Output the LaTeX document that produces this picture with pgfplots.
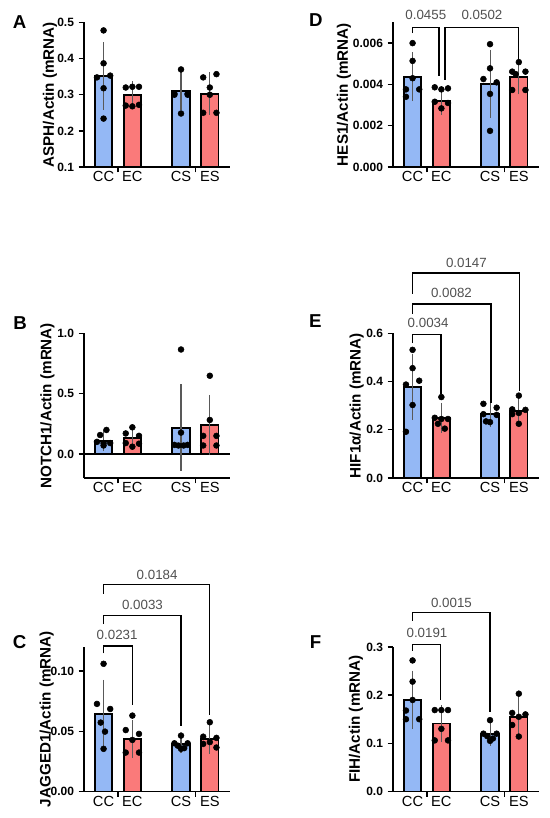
\documentclass[border=0pt]{standalone}
\usepackage{pgfplots}
\pgfplotsset{compat=1.18}
\usepackage{fontspec}
\setmainfont{Liberation Sans}
\definecolor{cblue}{HTML}{94B8F5}
\definecolor{cred}{HTML}{FA7A7A}
\definecolor{sig}{HTML}{505050}
\pgfplotsset{
  panel/.style={
    scale only axis, width=109.7pt, height=108.4pt,
    axis lines=left, axis line style={line width=1.4pt, -},
    xmin=-0.68, xmax=4.4,
    xtick={0.5,3.19}, xticklabels={},
    extra x ticks={0,1,2.69,3.69}, extra x tick labels={CC,EC,CS,ES},
    extra x tick style={major tick length=0pt},
    tick align=outside, major tick length=4pt,
    every tick/.style={line width=1pt, black},
    scaled y ticks=false,
    y tick label style={font=\fontsize{9}{10}\selectfont\bfseries},
    x tick label style={font=\fontsize{11}{13}\selectfont},
    ylabel style={font=\fontsize{11.4}{13}\selectfont\bfseries, anchor=center},
  },
  ylab/.style={ylabel style={at={(axis description cs:#1,0.5)}}},
  bblue/.style={ybar, bar width=0.6, fill=cblue, draw=black, line width=1.4pt,
    error bars/.cd, y dir=both, y explicit,
    error bar style={line width=0.8pt, black!65},
    error mark options={line width=0.8pt, black!65, mark size=3.5pt}},
  bred/.style={ybar, bar width=0.6, fill=cred, draw=black, line width=1.4pt,
    error bars/.cd, y dir=both, y explicit,
    error bar style={line width=0.8pt, black!65},
    error mark options={line width=0.8pt, black!65, mark size=3.5pt}},
  dots/.style={only marks, mark=*, mark size=2.2pt, black},
}
\newcommand{\siglab}[2]{\node[font=\fontsize{10}{11}\selectfont, text=sig] at (axis cs:#1) {#2};}
\begin{document}
\begin{tikzpicture}
\useasboundingbox (0,0) rectangle (412.5pt,-613.5pt);
% panel letters
\node[font=\fontsize{14}{16}\selectfont\bfseries] at (14.8pt,-16.3pt) {A};
\node[font=\fontsize{14}{16}\selectfont\bfseries] at (15pt,-242.3pt) {B};
\node[font=\fontsize{14}{16}\selectfont\bfseries] at (14.8pt,-481.3pt) {C};
\node[font=\fontsize{14}{16}\selectfont\bfseries] at (236.9pt,-15pt) {D};
\node[font=\fontsize{14}{16}\selectfont\bfseries] at (236.6pt,-240.8pt) {E};
\node[font=\fontsize{14}{16}\selectfont\bfseries] at (236.6pt,-481.5pt) {F};

% ---------------- A
\begin{axis}[panel, at={(63pt,-125.25pt)}, anchor=south west, ylab=-0.2325,
  ymin=0.1, ymax=0.5, ytick={0.1,0.2,0.3,0.4,0.5},
  yticklabels={0.1,0.2,0.3,0.4,0.5},
  ylabel={ASPH/Actin (mRNA)}]
\addplot[bblue] coordinates {(0,0.352) +- (0,0.080) (2.69,0.311) +- (0,0.041)};
\addplot[bred] coordinates {(1,0.299) +- (0,0.025) (3.69,0.303) +- (0,0.046)};
\addplot[dots] coordinates {(0,0.478) (0,0.387) (-0.23,0.348) (0.23,0.353) (0,0.318) (0,0.234)
 (0.77,0.320) (1,0.322) (1.23,0.322) (0.77,0.270) (1,0.268) (1.23,0.272)
 (2.69,0.370) (2.46,0.300) (2.46,0.303) (2.92,0.300) (2.92,0.303) (2.69,0.248)
 (3.46,0.348) (3.92,0.357) (3.69,0.320) (3.69,0.300) (3.46,0.250) (3.92,0.250)};
\end{axis}

% ---------------- D
\begin{axis}[panel, at={(294.75pt,-125.25pt)}, anchor=south west, clip=false, ylab=-0.335,
  ymin=0, ymax=0.007, ytick={0,0.002,0.004,0.006},
  yticklabels={0.000,0.002,0.004,0.006},
  ylabel={HES1/Actin (mRNA)}]
\addplot[bblue] coordinates {(0,0.00438) +- (0,0.00096) (2.69,0.00403) +- (0,0.00142)};
\addplot[bred] coordinates {(1,0.00321) +- (0,0.00045) (3.69,0.00434) +- (0,0.00060)};
\addplot[dots] coordinates {(0,0.0060) (0,0.00514) (0,0.0043) (-0.23,0.00376) (0.23,0.00376) (-0.23,0.0034)
 (0.77,0.00386) (1,0.00376) (1.23,0.00381) (0.77,0.00316) (1.23,0.00310) (1,0.00284)
 (2.69,0.00595) (2.69,0.00478) (2.46,0.00426) (2.92,0.00410) (2.69,0.00354) (2.69,0.00175)
 (3.69,0.00508) (3.46,0.00462) (3.92,0.00462) (3.58,0.00450) (3.46,0.00373) (3.92,0.00373)};
\draw[line width=1pt] (axis cs:0,0.00649) -- (axis cs:0,0.00675) -- (axis cs:0.92,0.00675) -- (axis cs:0.92,0.00441);
\draw[line width=1pt] (axis cs:1.13,0.00422) -- (axis cs:1.13,0.00675) -- (axis cs:3.69,0.00675) -- (axis cs:3.69,0.00519);
\siglab{0.46,0.00735}{0.0455}
\siglab{2.41,0.00735}{0.0502}
\end{axis}

% ---------------- B
\begin{axis}[panel, at={(63pt,-358.5pt)}, anchor=south west, clip=false, ylab=-0.2495,
  ymin=-0.2, ymax=1.0, ytick={0,0.5,1.0},
  yticklabels={0.0,0.5,1.0},
  ylabel={NOTCH1/Actin (mRNA)}]
\addplot[line width=1.4pt, black] coordinates {(-0.68,0) (4.4,0)};
\addplot[bblue] coordinates {(0,0.11) +- (0,0.05) (2.69,0.218) +- (0,0.32)};
\addplot[bred] coordinates {(1,0.135) +- (0,0.055) (3.69,0.24) +- (0,0.212)};
\addplot[dots] coordinates {(0.1,0.199) (-0.12,0.157) (-0.23,0.10) (0,0.09) (0.23,0.09) (0,0.07)
 (1,0.221) (0.77,0.17) (1.23,0.15) (0.77,0.09) (1.23,0.085) (1,0.06)
 (2.69,0.867) (2.69,0.177) (2.46,0.075) (2.60,0.07) (2.78,0.07) (2.92,0.075)
 (3.69,0.649) (3.69,0.282) (3.46,0.15) (3.92,0.15) (3.46,0.07) (3.92,0.07)};
\end{axis}

% ---------------- E
\begin{axis}[panel, at={(294.75pt,-358.5pt)}, anchor=south west, clip=false, ylab=-0.248,
  ymin=0, ymax=0.6, ytick={0,0.2,0.4,0.6},
  yticklabels={0.0,0.2,0.4,0.6},
  ylabel={HIF1α/Actin (mRNA)}]
\addplot[bblue] coordinates {(0,0.378) +- (0,0.117) (2.69,0.265) +- (0,0.034)};
\addplot[bred] coordinates {(1,0.250) +- (0,0.043) (3.69,0.279) +- (0,0.033)};
\addplot[dots] coordinates {(0,0.532) (0,0.456) (-0.23,0.388) (0.23,0.404) (0,0.303) (-0.23,0.192)
 (1,0.336) (0.77,0.250) (1,0.245) (1.23,0.245) (0.88,0.225) (1.12,0.205)
 (2.46,0.308) (2.92,0.292) (2.46,0.265) (2.92,0.262) (2.69,0.232) (2.55,0.235)
 (3.69,0.342) (3.46,0.285) (3.92,0.283) (3.69,0.270) (3.46,0.265) (3.69,0.225)};
\draw[line width=1pt] (axis cs:0,0.56) -- (axis cs:0,0.596) -- (axis cs:0.99,0.596) -- (axis cs:0.99,0.347);
\draw[line width=1pt] (axis cs:0,0.682) -- (axis cs:0,0.723) -- (axis cs:2.72,0.723) -- (axis cs:2.72,0.312);
\draw[line width=1pt] (axis cs:0,0.765) -- (axis cs:0,0.851) -- (axis cs:3.72,0.851) -- (axis cs:3.72,0.363);
\siglab{0.54,0.644}{0.0034}
\siglab{1.35,0.768}{0.0082}
\siglab{1.87,0.895}{0.0147}
\end{axis}

% ---------------- C
\begin{axis}[panel, at={(63pt,-593.6pt)}, anchor=south west, clip=false, ylab=-0.255,
  ymin=0, ymax=0.12, ytick={0,0.05,0.10},
  yticklabels={0.00,0.05,0.10},
  ylabel={JAGGED1/Actin (mRNA)}]
\addplot[bblue] coordinates {(0,0.0644) +- (0,0.0244) (2.69,0.0392) +- (0,0.0037)};
\addplot[bred] coordinates {(1,0.0436) +- (0,0.0118) (3.69,0.0436) +- (0,0.0082)};
\addplot[dots] coordinates {(0,0.106) (-0.23,0.0727) (0.23,0.0685) (-0.1,0.0572) (0.05,0.0497) (0,0.0354)
 (1,0.063) (0.77,0.051) (1.23,0.0478) (1,0.0428) (0.77,0.0323) (1.23,0.0323)
 (2.69,0.0464) (2.46,0.040) (2.92,0.040) (2.58,0.038) (2.80,0.036) (2.69,0.0354)
 (3.69,0.0575) (3.46,0.0455) (3.92,0.0445) (3.69,0.041) (3.46,0.0395) (3.92,0.0365)};
\draw[line width=1pt] (axis cs:0,0.1146) -- (axis cs:0,0.1207) -- (axis cs:1,0.1207) -- (axis cs:1,0.0718);
\draw[line width=1pt] (axis cs:0,0.139) -- (axis cs:0,0.1459) -- (axis cs:2.69,0.1459) -- (axis cs:2.69,0.0544);
\draw[line width=1pt] (axis cs:0,0.164) -- (axis cs:0,0.1718) -- (axis cs:3.69,0.1718) -- (axis cs:3.69,0.0635);
\siglab{0.47,0.1298}{0.0231}
\siglab{1.35,0.155}{0.0033}
\siglab{1.86,0.180}{0.0184}
\end{axis}

% ---------------- F
\begin{axis}[panel, at={(294.75pt,-593.6pt)}, anchor=south west, clip=false, ylab=-0.253,
  ymin=0, ymax=0.3, ytick={0,0.1,0.2,0.3},
  yticklabels={0.0,0.1,0.2,0.3},
  ylabel={FIH/Actin (mRNA)}]
\addplot[bblue] coordinates {(0,0.190) +- (0,0.051) (2.69,0.120) +- (0,0.015)};
\addplot[bred] coordinates {(1,0.141) +- (0,0.028) (3.69,0.155) +- (0,0.033)};
\addplot[dots] coordinates {(0,0.272) (0,0.228) (0,0.19) (-0.23,0.168) (-0.23,0.15) (0.23,0.15)
 (0.77,0.169) (1,0.169) (1.23,0.169) (1,0.13) (0.77,0.106) (1.23,0.106)
 (2.69,0.148) (2.46,0.12) (2.92,0.12) (2.59,0.115) (2.79,0.11) (2.69,0.105)
 (3.69,0.203) (3.46,0.163) (3.92,0.16) (3.69,0.155) (3.46,0.138) (3.69,0.114)};
\draw[line width=1pt] (axis cs:0,0.292) -- (axis cs:0,0.3055) -- (axis cs:0.97,0.3055) -- (axis cs:0.97,0.19);
\draw[line width=1pt] (axis cs:0,0.354) -- (axis cs:0,0.371) -- (axis cs:2.69,0.371) -- (axis cs:2.69,0.164);
\siglab{0.5,0.33}{0.0191}
\siglab{1.35,0.392}{0.0015}
\end{axis}
\end{tikzpicture}
\end{document}
